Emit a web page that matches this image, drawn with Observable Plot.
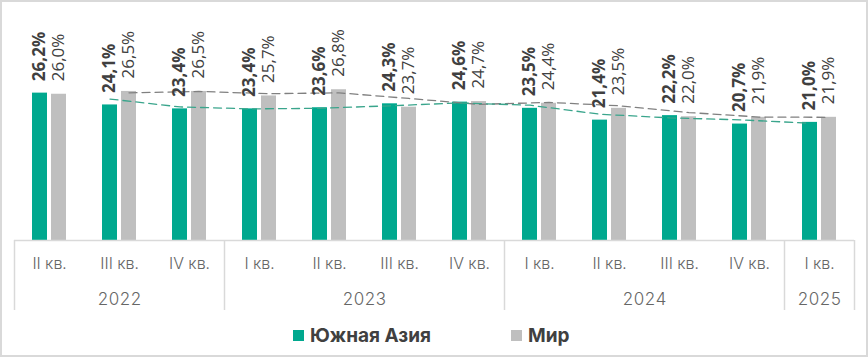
<!DOCTYPE html>
<html>
<head>
<meta charset="utf-8">
<script src="https://cdn.jsdelivr.net/npm/d3@7"></script>
<script src="https://cdn.jsdelivr.net/npm/@observablehq/plot@0.6"></script>
<style>
  html, body { margin: 0; padding: 0; background: #fff; }
  #wrap { position: relative; width: 868px; height: 357px; overflow: hidden; background: #fff; }
  #frame { position: absolute; left: 0; top: 0; width: 868px; height: 357px; box-sizing: border-box; border: 2px solid #d9d9d9; pointer-events: none; }
  #chart { position: absolute; left: 0; top: 0; }
  #legend { position: absolute; left: 0; top: 322px; width: 868px; height: 26px; font-family: Inter, "Open Sans", sans-serif; font-weight: 700; font-size: 19px; color: #404040; }
  .item { position: absolute; top: 0; display: flex; align-items: center; height: 26px; }
  .sw { width: 11px; height: 11px; margin-right: 6px; }
</style>
</head>
<body>
<div id="wrap">
  <div id="chart"></div>
  <div id="legend">
    <div class="item" style="left:293px"><span class="sw" style="background:#00a88e"></span><span>Южная Азия</span></div>
    <div class="item" style="left:511px"><span class="sw" style="background:#bfbfbf"></span><span>Мир</span></div>
  </div>
  <div id="frame"></div>
</div>
<script>
// ---- data ----
const quarters = ["II кв.", "III кв.", "IV кв.", "I кв.", "II кв.", "III кв.", "IV кв.", "I кв.", "II кв.", "III кв.", "IV кв.", "I кв."];
const southAsia = [26.2, 24.1, 23.4, 23.4, 23.6, 24.3, 24.6, 23.5, 21.4, 22.2, 20.7, 21.0];
const world = [26.0, 26.5, 26.5, 25.7, 26.8, 23.7, 24.7, 24.4, 23.5, 22.0, 21.9, 21.9];
// dashed trend lines (2-period moving average as drawn in the picture)
const trendSouthAsia = [null, 25.15, 23.75, 23.4, 23.5, 23.95, 24.45, 24.05, 22.45, 21.8, 21.45, 20.85];
const trendWorld = [null, 26.25, 26.5, 26.1, 26.25, 25.25, 24.2, 24.55, 23.95, 22.75, 21.95, 21.9];
const years = ["2022", "2023", "2024", "2025"];
const yearCounts = [3, 4, 4, 1];

// ---- layout constants (fractions of one category step) ----
const STEP = 70;
const SA_X1 = -17 / STEP, SA_X2 = -2 / STEP;
const W_X1 = 2 / STEP, W_X2 = 17 / STEP;
const SA_C = (SA_X1 + SA_X2) / 2, W_C = (W_X1 + W_X2) / 2;

const idx = d3.range(quarters.length);
const rows = idx.map(i => ({i, sa: southAsia[i], w: world[i], tsa: trendSouthAsia[i], tw: trendWorld[i]}));

// year groups
let start = 0;
const yearTicks = [], separators = [-0.5];
yearCounts.forEach(n => {
  yearTicks.push(start + (n - 1) / 2);
  start += n;
  separators.push(start - 0.5);
});

const fmt = v => v.toFixed(1).replace(".", ",") + "%";

const TEAL = "#00a88e", GREY = "#bfbfbf";

const chart = Plot.plot({
  width: 868,
  height: 320,
  marginLeft: 14,
  marginRight: 14,
  marginTop: 15,
  marginBottom: 80,
  style: {fontFamily: "Inter, 'Open Sans', sans-serif", background: "transparent", overflow: "visible"},
  x: {domain: [-0.5, 11.5], axis: null},
  y: {domain: [0, 40], axis: null},
  marks: [
    Plot.rectY(rows, {x1: d => d.i + SA_X1, x2: d => d.i + SA_X2, y: "sa", fill: TEAL}),
    Plot.rectY(rows, {x1: d => d.i + W_X1, x2: d => d.i + W_X2, y: "w", fill: GREY}),
    Plot.ruleY([0], {stroke: "#d9d9d9", strokeWidth: 1.5}),
    Plot.axisX({ticks: separators, tickSize: 70, tickFormat: () => "", stroke: "#d9d9d9", strokeWidth: 1.5}),
    Plot.axisX({ticks: idx, tickFormat: i => quarters[i], tickSize: 0, tickPadding: 17, fontSize: 16, fill: "#666", fontWeight: 300}),
    Plot.axisX({ticks: yearTicks, tickFormat: (t, k) => years[k], tickSize: 0, tickPadding: 52, fontSize: 17, fill: "#666", fontWeight: 300}),
    Plot.line(rows.filter(d => d.tw != null), {x: d => d.i + W_C, y: "tw", stroke: "#808080", strokeWidth: 1.3, strokeDasharray: "8,5"}),
    Plot.line(rows.filter(d => d.tsa != null), {x: d => d.i + SA_C, y: "tsa", stroke: "#3aa58c", strokeWidth: 1.3, strokeDasharray: "8,5"}),
    Plot.text(rows, {x: d => d.i + SA_C, y: "sa", text: d => fmt(d.sa), rotate: -90, textAnchor: "start", dy: -12, fontSize: 17, fontWeight: "bold", fill: "#404040", fontFamily: "'Open Sans', sans-serif"}),
    Plot.text(rows, {x: d => d.i + W_C, y: "w", text: d => fmt(d.w), rotate: -90, textAnchor: "start", dy: -13, fontSize: 17, fill: "#404040", fontFamily: "'Open Sans', sans-serif"})
  ]
});
document.getElementById("chart").appendChild(chart);
</script>
</body>
</html>
